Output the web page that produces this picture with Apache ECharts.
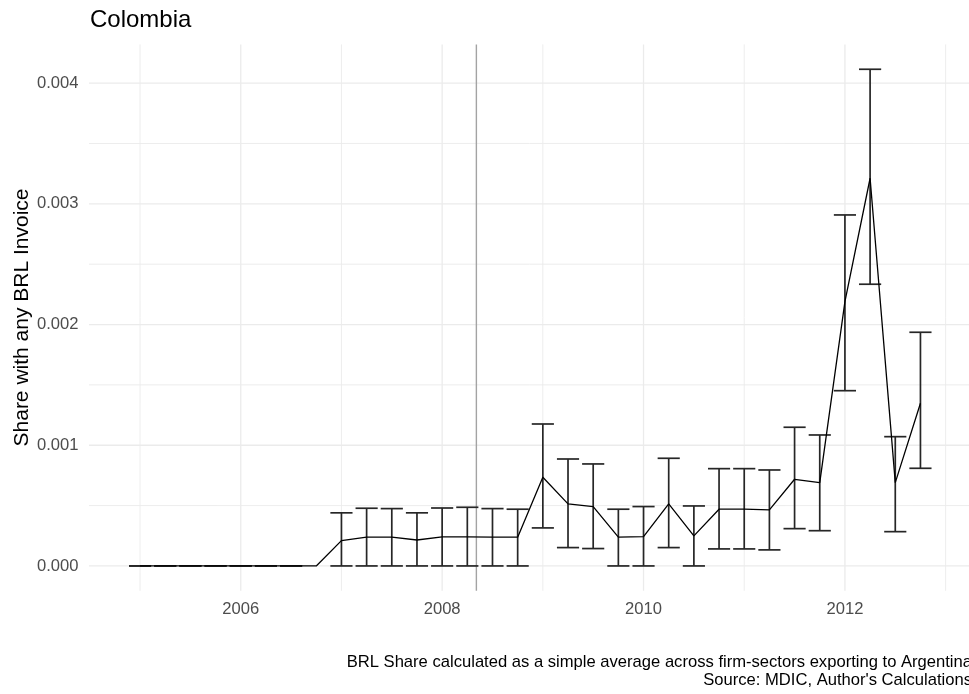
<!DOCTYPE html>
<html>
<head>
<meta charset="utf-8">
<script src="https://cdn.jsdelivr.net/npm/echarts@6/dist/echarts.min.js"></script>
<style>
  html, body { margin: 0; padding: 0; background: #ffffff; }
  #chart { width: 969px; height: 694px; }
</style>
</head>
<body>
<div id="chart"></div>
<script>
// Quarterly share of Colombian exports invoiced in BRL, with confidence bands
const quarters = [
  2005.00, 2005.25, 2005.50, 2005.75, 2006.00, 2006.25, 2006.50, 2006.75,
  2007.00, 2007.25, 2007.50, 2007.75, 2008.00, 2008.25, 2008.50, 2008.75,
  2009.00, 2009.25, 2009.50, 2009.75, 2010.00, 2010.25, 2010.50, 2010.75,
  2011.00, 2011.25, 2011.50, 2011.75, 2012.00, 2012.25, 2012.50, 2012.75
];
const share = [
  0, 0, 0, 0, 0, 0, 0, 0,
  0.000210, 0.000238, 0.000238, 0.000215, 0.000240, 0.000240, 0.000238, 0.000238,
  0.000735, 0.000514, 0.000492, 0.000238, 0.000243, 0.000514, 0.000249, 0.000470,
  0.000470, 0.000464, 0.000718, 0.000690, 0.002190, 0.003212, 0.000690, 0.001348
];
const upper = [
  0, 0, 0, 0, 0, 0, 0, null,
  0.000440, 0.000478, 0.000475, 0.000440, 0.000480, 0.000486, 0.000475, 0.000470,
  0.001176, 0.000886, 0.000845, 0.000470, 0.000492, 0.000892, 0.000497, 0.000806,
  0.000806, 0.000795, 0.001149, 0.001085, 0.002908, 0.004115, 0.001071, 0.001936
];
const lower = [
  0, 0, 0, 0, 0, 0, 0, null,
  0, 0, 0, 0, 0, 0, 0, 0,
  0.000315, 0.000152, 0.000144, 0, 0, 0.000152, 0, 0.000141,
  0.000141, 0.000133, 0.000309, 0.000292, 0.001452, 0.002334, 0.000284, 0.000809
];

const xMajorTicks = [2006, 2008, 2010, 2012];
const xMinorTicks = [2005, 2007, 2009, 2011, 2013];
const yMajorTicks = [0, 0.001, 0.002, 0.003, 0.004];
const yTickLabels = ['0.000', '0.001', '0.002', '0.003', '0.004'];
const yMinorTicks = [0.0005, 0.0015, 0.0025, 0.0035];
const eventDate = 2008.34;

const FONT = "'Liberation Sans', Arial, Helvetica, sans-serif";
const TICK_COLOR = '#4d4d4d';
const GRID_COLOR = '#ebebeb';
const CAP_HALF = 0.11;

const chart = echarts.init(document.getElementById('chart'), null, { renderer: 'canvas' });

const lineData = quarters.map((q, i) => [q, share[i]]);
const barData = [];
quarters.forEach((q, i) => {
  if (upper[i] !== null && lower[i] !== null) barData.push([q, lower[i], upper[i]]);
});

function vGrid(width, color) {
  return function (params, api) {
    const cs = params.coordSys;
    const x = api.coord([api.value(0), 0])[0];
    return {
      type: 'line',
      shape: { x1: x, y1: cs.y, x2: x, y2: cs.y + cs.height },
      style: { stroke: color, lineWidth: width }
    };
  };
}
function hGrid(width, color) {
  return function (params, api) {
    const cs = params.coordSys;
    const y = api.coord([2010, api.value(1)])[1];
    return {
      type: 'line',
      shape: { x1: cs.x, y1: y, x2: cs.x + cs.width, y2: y },
      style: { stroke: color, lineWidth: width }
    };
  };
}

const option = {
  animation: false,
  backgroundColor: '#ffffff',
  grid: {
    left: 89, top: 44.4, width: 882.5, height: 546.4,
    containLabel: false, outerBoundsMode: 'none'
  },
  xAxis: { type: 'value', min: 2004.493, max: 2013.257, show: false },
  yAxis: { type: 'value', min: -0.000206, max: 0.004321, show: false },
  graphic: [
    {
      type: 'text', x: 90, y: 20.7, silent: true,
      style: { text: 'Colombia', font: '24px ' + FONT, fill: '#000000', align: 'left', verticalAlign: 'middle' }
    },
    {
      type: 'text', x: 22, y: 317.5, rotation: Math.PI / 2, silent: true,
      style: { text: 'Share with any BRL Invoice', font: '21px ' + FONT, fill: '#000000', align: 'center', verticalAlign: 'middle' }
    },
    {
      type: 'text', x: 972, y: 662.4, silent: true,
      style: { text: 'BRL Share calculated as a simple average across firm-sectors exporting to Argentina', font: '16.6px ' + FONT, fill: '#000000', align: 'right', verticalAlign: 'middle' }
    },
    {
      type: 'text', x: 972, y: 680.1, silent: true,
      style: { text: "Source: MDIC, Author's Calculations", font: '16.6px ' + FONT, fill: '#000000', align: 'right', verticalAlign: 'middle' }
    }
  ],
  series: [
    { type: 'custom', silent: true, renderItem: vGrid(0.9, GRID_COLOR), data: xMinorTicks.map(v => [v, 0]), z: 1 },
    { type: 'custom', silent: true, renderItem: hGrid(0.9, GRID_COLOR), data: yMinorTicks.map(v => [2010, v]), z: 1 },
    { type: 'custom', silent: true, renderItem: vGrid(1.3, GRID_COLOR), data: xMajorTicks.map(v => [v, 0]), z: 1 },
    { type: 'custom', silent: true, renderItem: hGrid(1.3, GRID_COLOR), data: yMajorTicks.map(v => [2010, v]), z: 1 },
    {
      // x tick labels
      type: 'custom', silent: true, z: 2,
      data: xMajorTicks.map(v => [v, 0]),
      renderItem: function (params, api) {
        const cs = params.coordSys;
        const x = api.coord([api.value(0), 0])[0];
        return {
          type: 'text', x: x, y: cs.y + cs.height + 19,
          style: { text: String(api.value(0)), font: '16.6px ' + FONT, fill: TICK_COLOR, align: 'center', verticalAlign: 'middle' }
        };
      }
    },
    {
      // y tick labels
      type: 'custom', silent: true, z: 2,
      data: yMajorTicks.map((v, i) => [2010, v, i]),
      renderItem: function (params, api) {
        const cs = params.coordSys;
        const y = api.coord([2010, api.value(1)])[1];
        return {
          type: 'text', x: cs.x - 10.5, y: y,
          style: { text: yTickLabels[api.value(2)], font: '16.6px ' + FONT, fill: TICK_COLOR, align: 'right', verticalAlign: 'middle' }
        };
      }
    },
    {
      // reference date line
      type: 'custom', silent: true, z: 3,
      data: [[eventDate, 0]],
      renderItem: function (params, api) {
        const cs = params.coordSys;
        const x = api.coord([api.value(0), 0])[0];
        return {
          type: 'line',
          shape: { x1: x, y1: cs.y, x2: x, y2: cs.y + cs.height },
          style: { stroke: '#a3a3a3', lineWidth: 1.4 }
        };
      }
    },
    {
      // error bars
      type: 'custom', silent: true, z: 4,
      data: barData,
      renderItem: function (params, api) {
        const x = api.value(0), lo = api.value(1), hi = api.value(2);
        const pLo = api.coord([x, lo]);
        const pHi = api.coord([x, hi]);
        const xl = api.coord([x - CAP_HALF, lo])[0];
        const xr = api.coord([x + CAP_HALF, lo])[0];
        const st = { stroke: '#262626', lineWidth: 1.7 };
        return {
          type: 'group',
          children: [
            { type: 'line', shape: { x1: pLo[0], y1: pLo[1], x2: pHi[0], y2: pHi[1] }, style: st },
            { type: 'line', shape: { x1: xl, y1: pLo[1], x2: xr, y2: pLo[1] }, style: st },
            { type: 'line', shape: { x1: xl, y1: pHi[1], x2: xr, y2: pHi[1] }, style: st }
          ]
        };
      }
    },
    {
      type: 'line', silent: true, z: 5,
      data: lineData,
      showSymbol: false, symbol: 'none',
      lineStyle: { color: '#000000', width: 1.3 }
    }
  ]
};

chart.setOption(option);
</script>
</body>
</html>
